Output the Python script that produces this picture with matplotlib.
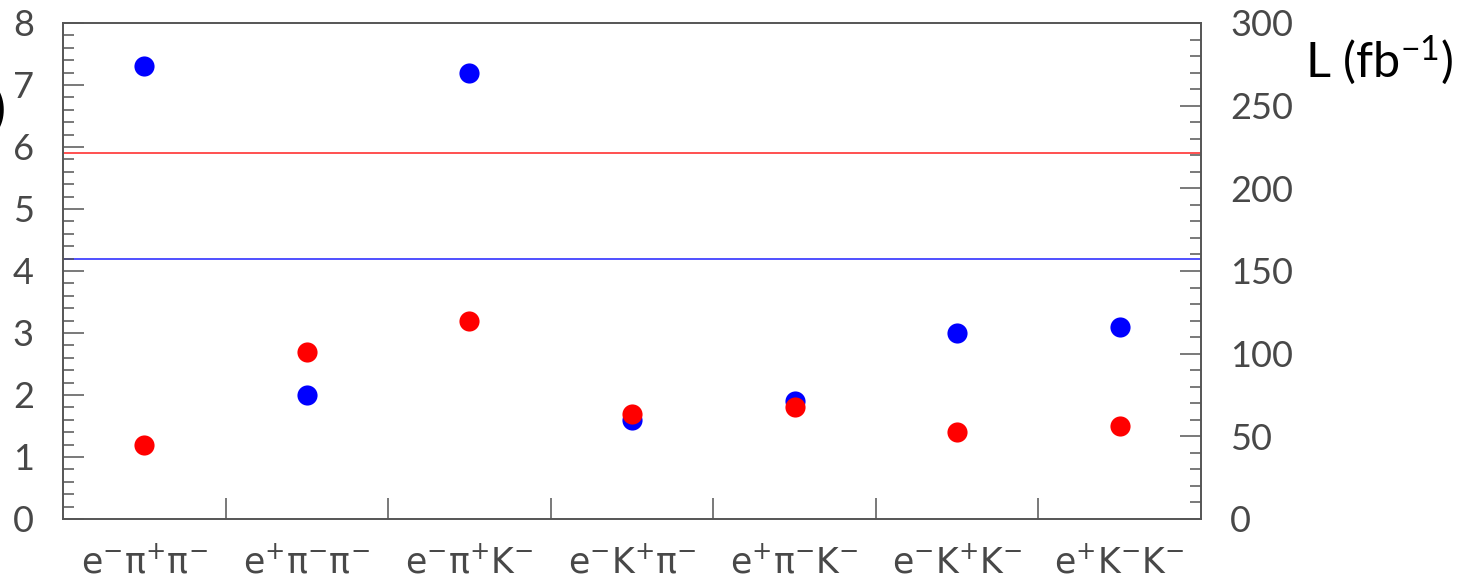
import matplotlib
matplotlib.use("Agg")
import matplotlib.pyplot as plt
from matplotlib.ticker import MultipleLocator, FixedLocator, NullFormatter

# Decay channels
channels = [r"e^{-}\pi^{+}\pi^{-}", r"e^{+}\pi^{-}\pi^{-}", r"e^{-}\pi^{+}K^{-}",
            r"e^{-}K^{+}\pi^{-}", r"e^{+}\pi^{-}K^{-}", r"e^{-}K^{+}K^{-}",
            r"e^{+}K^{-}K^{-}"]
blue_vals = [7.3, 2.0, 7.2, 1.6, 1.9, 3.0, 3.1]
red_vals = [1.2, 2.7, 3.2, 1.7, 1.8, 1.4, 1.5]
red_level = 5.9
blue_level = 4.2

plt.rcParams["mathtext.fontset"] = "custom"
plt.rcParams["mathtext.rm"] = "Lato:light"
plt.rcParams["mathtext.it"] = "Lato:light"
plt.rcParams["mathtext.default"] = "regular"

W, H = 1483, 581
fig = plt.figure(figsize=(W / 100, H / 100), dpi=100)
ax = fig.add_axes([63 / W, 1 - 519 / H, (1201 - 63) / W, (519 - 23) / H])

spine_col = "#555555"
label_col = "#484848"
tick_font = dict(family=["Lato", "DejaVu Sans"], weight="normal", size=26)

x = list(range(len(channels)))
ax.axhline(red_level, color="#ff2020", lw=1.1, zorder=1)
ax.axhline(blue_level, color="#2020ff", lw=1.1, zorder=1)
ax.plot(x, blue_vals, "o", color="#0000ff", ms=14.5, mec="none", zorder=3)
ax.plot(x, red_vals, "o", color="#ff0000", ms=14.5, mec="none", zorder=4)

ax.set_xlim(-0.5, len(channels) - 0.5)
ax.set_ylim(0, 8)

for s in ax.spines.values():
    s.set_color(spine_col)
    s.set_linewidth(1.2)

# left axis
ax.yaxis.set_major_locator(MultipleLocator(1))
ax.yaxis.set_minor_locator(MultipleLocator(0.2))
ax.tick_params(axis="y", which="major", direction="in", length=15, width=1.1,
               color=spine_col, pad=21, labelcolor=label_col)
ax.tick_params(axis="y", which="minor", direction="in", length=8, width=1.1,
               color=spine_col)
for lab in ax.get_yticklabels():
    lab.set(**tick_font)

# category axis: separators between channels, labels at centres
ax.xaxis.set_major_locator(FixedLocator(x))
ax.set_xticklabels(["$" + c + "$" for c in channels])
ax.xaxis.set_minor_locator(FixedLocator([i + 0.5 for i in range(len(channels) - 1)]))
ax.xaxis.set_minor_formatter(NullFormatter())
ax.tick_params(axis="x", which="major", length=0, pad=19, labelcolor=label_col,
               labelsize=25)
ax.tick_params(axis="x", which="minor", direction="in", length=15, width=1.1,
               color=spine_col)

# right axis: luminosity
ax2 = ax.twinx()
ax2.set_ylim(0, 300)
ax2.yaxis.set_major_locator(MultipleLocator(50))
ax2.yaxis.set_minor_locator(MultipleLocator(10))
ax2.tick_params(axis="y", which="major", direction="in", length=15, width=1.1,
                color=spine_col, pad=21, labelcolor=label_col)
ax2.tick_params(axis="y", which="minor", direction="in", length=8, width=1.1,
                color=spine_col)
for lab in ax2.get_yticklabels():
    lab.set(**tick_font)
for s in ax2.spines.values():
    s.set_color(spine_col)
    s.set_linewidth(1.2)

fig.text(1305 / W, 1 - 60 / H, r"L (fb$^{-1}$)", fontsize=35,
         family=["Lato", "DejaVu Sans"], color="black", ha="left", va="center")
fig.text(5 / W, 1 - 110 / H, ")", fontsize=35, family=["Lato", "DejaVu Sans"],
         color="black", ha="right", va="center")

fig.savefig("out.png", dpi=100)
